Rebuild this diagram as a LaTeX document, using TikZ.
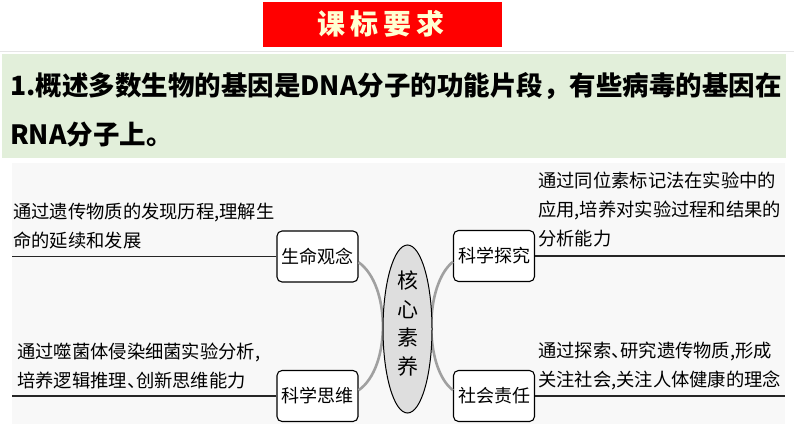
\documentclass[tikz,border=0pt]{standalone}
\usepackage{fontspec}
\setmainfont{Noto Sans CJK SC}
\usetikzlibrary{shapes.geometric}
\definecolor{bannerred}{HTML}{FF0000}
\definecolor{cream}{HTML}{FFFFD2}
\definecolor{bandgreen}{HTML}{E2EFDA}
\definecolor{mapbg}{HTML}{F8F8F8}
\definecolor{arcgray}{HTML}{A0A0A0}
\definecolor{corefill}{HTML}{DEDEDE}
\newcommand{\halfdun}{\makebox[9pt][l]{、}}
\tikzset{
  topic/.style={draw=black, line width=1.1pt, rounded corners=5pt, fill=white,
    minimum width=81pt, minimum height=51pt, inner sep=0pt,
    font=\fontsize{18}{18}\selectfont},
  desc/.style={align=left, anchor=west, inner sep=0pt,
    font=\fontsize{18.3}{29}\selectfont},
  branch/.style={draw=black!85, line width=1.4pt},
  coreline/.style={draw=arcgray, line width=2.6pt},
  reqtitle/.style={anchor=west, inner sep=0pt,
    font=\fontsize{26.5}{26.5}\selectfont\bfseries}
}
\begin{document}
\begin{tikzpicture}[x=1pt,y=-1pt]
\useasboundingbox (0,0) rectangle (794,447);
\fill[white] (0,0) rectangle (794,447);
% banner
\fill[bannerred] (263,2) rectangle (502,47);
\node[text=cream, inner sep=0pt, font=\fontsize{28}{28}\selectfont\bfseries] (banner) at (381,24) {课\hspace{5pt}标\hspace{5pt}要\hspace{5pt}求};
\draw[gray!20, line width=0.8pt] (0,51) -- (794,51);
% requirement band
\fill[bandgreen] (2,54) rectangle (786,158);
\node[reqtitle] (req1) at (10,86) {1.概述多数生物的基因是DNA分子的功能片段，有些病毒的基因在};
\node[reqtitle] (req2) at (10,135) {RNA分子上。};
% mind map background
\fill[mapbg] (12,163) rectangle (785,424);
% topic boxes
\node[topic] (smgn) at (317.5,256.5) {生命观念};
\node[topic] (kxtj) at (494,256) {科学探究};
\node[topic] (kxsw) at (317.5,396) {科学思维};
\node[topic] (shzr) at (494,396) {社会责任};
% gray arcs
\draw[coreline] (smgn.-8) .. controls (391,285) and (391,368) .. (kxsw.8);
\draw[coreline] (kxtj.188) .. controls (424,285) and (424,368) .. (shzr.172);
% core ellipse
\node[ellipse, draw=black, fill=corefill, line width=1pt, minimum width=49pt,
  minimum height=168pt, inner sep=0pt] (core) at (407.5,329) {};
\node[align=center, inner sep=0pt, font=\fontsize{21}{28.5}\selectfont] (coretext) at (407.5,323.5) {核\\心\\素\\养};
% branch lines
\coordinate (lend) at (12,257);
\coordinate (rend) at (785,257);
\draw[branch] (smgn.west) -- (lend |- smgn.west);
\draw[branch] (kxtj.east) -- (rend |- kxtj.east);
\draw[branch] (kxsw.west) -- (lend |- kxsw.west);
\draw[branch] (shzr.east) -- (rend |- shzr.east);
% descriptions
\node[desc] (d1) at (13,226) {通过遗传物质的发现历程,理解生\\命的延续和发展};
\node[desc] (d2) at (538,210) {通过同位素标记法在实验中的\\应用,培养对实验过程和结果的\\分析能力};
\node[desc] (d3) at (17,366) {通过噬菌体侵染细菌实验分析,\\培养逻辑推理\halfdun 创新思维能力};
\node[desc] (d4) at (538,366) {通过探索\halfdun 研究遗传物质,形成\\关注社会,关注人体健康的理念};
\end{tikzpicture}
\end{document}
